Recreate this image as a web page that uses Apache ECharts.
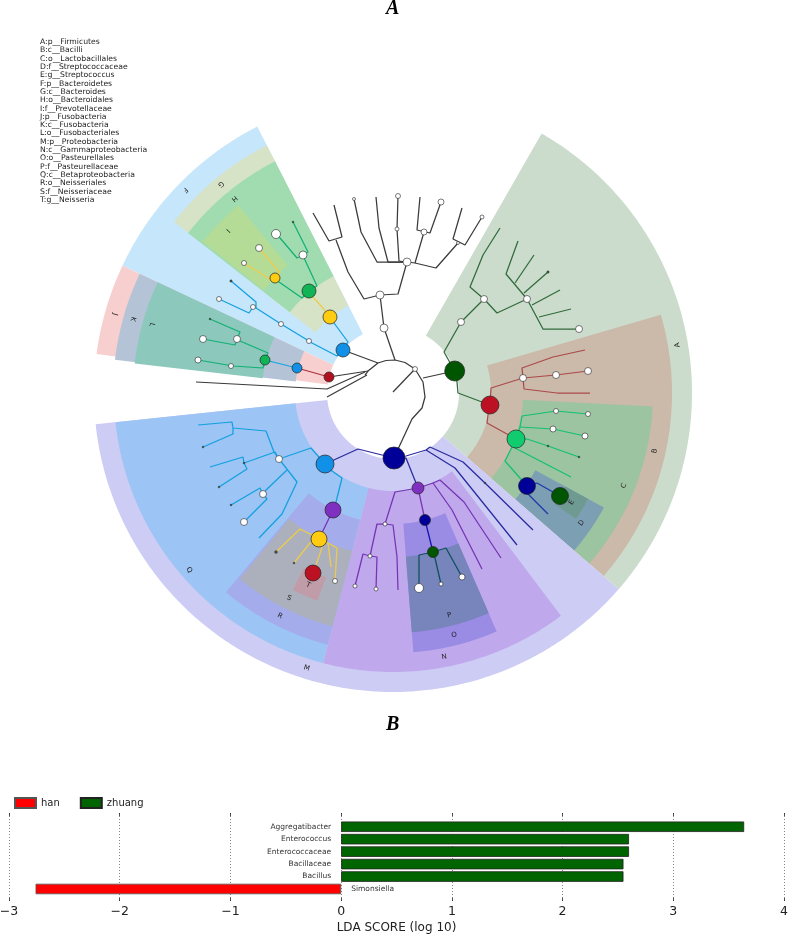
<!DOCTYPE html>
<html><head><meta charset="utf-8">
<style>html,body{margin:0;padding:0;background:#fff}#c{width:789px;height:936px}</style>
<script src="https://cdn.jsdelivr.net/npm/echarts@6/dist/echarts.min.js"></script>
</head><body><div id="c"></div>
<script>
// ---------- cladogram clades ----------
const cladeNames = ['A:p__Firmicutes','B:c__Bacilli','C:o__Lactobacillales','D:f__Streptococcaceae','E:g__Streptococcus','F:p__Bacteroidetes','G:c__Bacteroides','H:o__Bacteroidales','I:f__Prevotellaceae','J:p__Fusobacteria','K:c__Fusobacteria','L:o__Fusobacteriales','M:p__Proteobacteria','N:c__Gammaproteobacteria','O:o__Pasteurellales','P:f__Pasteurellaceae','Q:c__Betaproteobacteria','R:o__Neisseriales','S:f__Neisseriaceae','T:g__Neisseria'];
// [inner radius, outer radius, from angle, to angle, letter radius, letter angle]
const cladeSpans = [
 [66,299,-41,60.2,288.7,9.6],[98,279,-41,16.3,268,-12.5],[130,260,-41,-3,249,-21.9],[162,240,-41,-28.5,229,-34.6],[196,222,-34.5,-28.5,209.5,-31.5],
 [66,299,117,154.8,290.6,135.7],[98,278,117,142,270.7,129.5],[131,260,117,142,251,129.2],[165,243,129.5,141.5,231.7,135.5],
 [66,299,154.8,172.5,289,164.2],[98,280,154.8,173.2,270.6,164.1],[131,260,154.8,173.5,250.8,164.2],
 [66,299,186,319,288.5,252.6],[98,279,255.5,307,269,281],[131,260,274.5,293.5,249.6,284.2],[164,240,274.5,293.5,229.3,284.2],
 [98,279,186,255.5,270,221],[131,260,230,255.5,250,243.1],[163,241,230.5,255.5,230,243.1],[196,221,243,250,210,246.2]
];
const cladeFill = ['#ccdccc','#cbb9aa','#9cc4a0','#7d9fb4','#6e9a92','#c6e6fb','#d6e3c6','#a0dcb0','#b4dc96','#f8cfcf','#b4c4d6','#8cc8bc','#ccccf4','#c0a8ec','#9a8ce4','#7884bc','#9cc4f4','#a4acec','#acb0bc','#c09ca8'];

// ---------- cladogram branches, east / north of the root ----------
const branchesRoot = [
 [[-28,18],[-25,22],[-15,30],[-7,32.5],[2,33],[12,30.5],[22,24],[30,11],[32,-4],[29,-15],[19,-26],[6,-54],[1,-65]],
 [[22,24],[0,1]],[[30,15],[61.7,22]],[[-25,22],[-64,16]],[[-15,30],[-50,43]],
 [[-28,21],[-66,4],[-197,11]],[[-26,18],[-66,-4]],
 [[2,33],[-9,65],[-13,98]],[[-13,98],[-29,94],[-45,121],[-57,153]],[[-80,180],[-64,152],[-51,156],[-59,188]],
 [[-13,98],[5,99],[14,131]],[[14,131],[-16,131],[-32,161],[-39,194]],[[14,131],[-5,131],[-14,165],[-17,196]],
 [[14,131],[6,132],[4,164],[5,197]],[[14,131],[22,130],[31,161]],[[27,196],[24,163],[37,160],[48,191]],
 [[22,130],[43,125],[65,150]],[[69,185],[60,154],[72,148],[89,176]]
];
const branchesA = [
 [[61.7,22],[51,41],[68,71],[91,94]],[[91,94],[77,106],[90,138],[107,165]],[[91,94],[104,80],[134,94]],
 [[134,94],[150,64],[186,64]],[[134,94],[113,119],[125,152]],[[122,110],[141,138]],[[131,100],[155,121]],[[139,88],[167,103]],[[146,76],[178,84]],
 [[61.7,22],[64,11],[65,0],[97,-12]]
];
const branchesB = [
 [[97,-12],[98,5],[130,15]],[[130,15],[129,25],[160,36],[192,43]],[[130,15],[163,18],[195,22]],[[130,15],[131,4],[164,0],[197,0]],
 [[97,-12],[95,-22],[94,-30],[123,-46]]
];
const branchesC = [
 [[123,-46],[127,-34],[129,-23],[163,-18],[195,-21]],[[127,-34],[160,-36],[192,-43]],[[123,-46],[134,-46],[155,-53],[186,-64]],
 [[123,-46],[122,-55],[178,-84]],[[123,-46],[119,-54],[112,-68],[134,-93]]
];
const branchesD = [[[134,-93],[144,-90],[167,-103]],[[134,-93],[134,-100],[155,-121]]];
const branchesM = [
 [[1,-65],[-35,-56],[-68,-71]],[[1,-65],[13,-63],[33,-57],[37,-54]],[[37,-54],[70,-69],[92,-90],[140,-137]],[[33,-57],[62,-75],[124,-152]],
 [[1,-65],[13,-65],[25,-95]]
];
const branchesN = [
 [[25,-95],[2,-99],[-8,-131]],[[-8,-131],[-16,-131],[-23,-163]],[[-23,-163],[-30,-161],[-38,-193]],[[-23,-163],[-16,-164],[-17,-196]],
 [[-8,-131],[0,-132],[4,-164],[5,-197]],[[25,-95],[40,-90],[59,-117],[89,-176]],[[40,-90],[47,-87],[71,-109],[108,-165]],[[25,-95],[32,-127]],[[-60,-117],[-74,-146]]
];
const branchesO = [[[32,-127],[40,-159]]];
const branchesP = [[[40,-159],[26,-162],[26,-195]],[[40,-159],[42,-165],[48,-191]],[[40,-159],[53,-155],[69,-184]]];
const branchesQ = [
 [[-68,-71],[-82,-55],[-114,-66]],[[-114,-66],[-119,-59],[-127,-38],[-160,-35],[-161,-29],[-195,-32]],[[-160,-35],[-160,-41],[-190,-54]],
 [[-114,-66],[-118,-59],[-149,-70],[-150,-64],[-183,-74]],[[-149,-70],[-146,-76],[-174,-94]],
 [[-114,-66],[-96,-89],[-111,-121],[-134,-145]],[[-106,-77],[-127,-97],[-130,-101]],[[-130,-101],[-133,-95],[-162,-112]],[[-130,-101],[-126,-106],[-146,-126],[-149,-129]],
 [[-68,-71],[-61,-78],[-51,-85],[-57,-109],[-60,-117]],
 [[-50,43],[-45,51],[-59,70],[-63,76]],[[-50,43],[-56,37],[-81,50],[-84,52],[-112,69],[-137,85],[-140,86]],[[-140,86],[-144,80],[-174,94]],[[-137,85],[-137,91],[-162,112]],
 [[-96,25],[-128,33]]
];
const branchesS = [
 [[-74,-146],[-83,-141],[-93,-136],[-117,-159]],[[-74,-146],[-83,-150],[-99,-170]],[[-74,-146],[-71,-155],[-80,-180]],
 [[-74,-146],[-65,-150],[-56,-155],[-58,-188]],[[-65,-150],[-62,-174]],
 [[-63,76],[-71,86],[-80,96],[-84,102]],[[-118,115],[-113,120],[-134,145]],[[-118,115],[-123,114],[-146,128],[-149,130]]
];
const branchesH = [
 [[-84,102],[-76,107],[-88,133],[-90,138]],[[-90,138],[-96,135],[-113,155],[-117,159]],[[-90,138],[-85,141],[-100,171]],[[-84,102],[-91,95],[-114,111],[-118,115]],
 [[-128,33],[-125,40],[-153,52],[-156,54]],[[-156,54],[-153,61],[-183,74]],[[-156,54],[-158,48],[-190,54]],[[-128,33],[-130,25],[-160,27],[-162,27],[-195,33]]
];
const branchesJ = [[[-64,16],[-96,25]]];
const branchColours = [
 [branchesRoot,'#3a3a3a'],[branchesA,'#2f6b3a'],[branchesB,'#ab4a4a'],[branchesC,'#12c074'],[branchesD,'#1c3aa8'],
 [branchesM,'#2a2aa0'],[branchesN,'#7434b4'],[branchesO,'#1414b0'],[branchesP,'#0c5058'],[branchesQ,'#12a0e0'],
 [branchesS,'#eecb4c'],[branchesH,'#12b074'],[branchesJ,'#b03040']
];

// ---------- cladogram nodes: east, north, diameter ----------
const whiteNodes = [[-9,65,8],[-13,98,8],[14,131,8],[22,24,5],[4,164,4],[5,197,5],[31,161,6],[48,191,6],[-39,194,3],[65,150,3],[89,176,4],
 [68,71,7],[91,94,7],[134,94,7],[186,64,7],[130,15,7],[163,18,7],[195,22,7],[163,-18,5],[195,-21,5],[160,-36,6],[192,-43,6],
 [-8,-131,4],[-23,-163,4],[-38,-193,4],[-17,-196,4],[26,-195,9],[48,-191,4],[69,-184,6],[-114,-66,7],[-130,-101,7],[-149,-129,7],[-58,-188,5],
 [-84,52,5],[-112,69,5],[-140,86,5],[-174,94,5],[-90,138,8],[-117,159,9],[-134,145,7],[-149,130,5],[-156,54,7],[-190,54,7],[-162,27,5],[-195,33,6]];
const tinyNodes = [[155,121,2.5],[155,-53,2],[186,-64,2],[92,-90,2],[-190,-54,2],[-174,-94,2],[-162,-112,2],[-149,-70,2],[-117,-159,3],[-99,-170,2],[-162,112,2.5],[-100,171,2],[-183,74,2]];
const cladeNodes = [[61.7,22,20],[97,-12,18],[123,-46,18],[134,-93,17],[167,-103,17],[-50,43,14],[-63,76,14],[-84,102,14],[-118,115,10],[-64,16,10],[-96,25,10],[-128,33,10],[1,-65,22],[25,-95,12],[32,-127,11],[40,-159,11],[-68,-71,18],[-60,-117,16],[-74,-146,16],[-80,-180,16]];
const cladeNodeColours = ['#005500','#bb1122','#11cc6e','#000099','#005500','#1190e8','#ffcc11','#11b455','#ffcc11','#b01020','#1190e8','#11b455','#000099','#8030c0','#000099','#005500','#1190e8','#8030c0','#ffcc11','#bb1122'];

// ---------- LDA bars ----------
const taxa = ['Simonsiella','Bacillus','Bacillaceae','Enterococcaceae','Enterococcus','Aggregatibacter'];
const hanScores = [-2.76,null,null,null,null,null];
const zhuangScores = [null,2.55,2.55,2.6,2.6,3.64];

const sansFont = '"DejaVu Sans", sans-serif';
const chart = echarts.init(document.getElementById('c'), null, {renderer:'canvas'});

function renderWedge(params, api){
  const i = params.dataIndex, s = cladeSpans[i], pts = [];
  const step = 0.5;
  for(let a=s[2]; a<s[3]; a+=step){ const p=api.coord([s[1],a]); pts.push([p[0],p[1]]); }
  let p=api.coord([s[1],s[3]]); pts.push([p[0],p[1]]);
  for(let a=s[3]; a>s[2]; a-=step){ const q=api.coord([s[0],a]); pts.push([q[0],q[1]]); }
  p=api.coord([s[0],s[2]]); pts.push([p[0],p[1]]);
  const l = api.coord([s[4],s[5]]);
  return {type:'group',children:[
    {type:'polygon',shape:{points:pts},style:{fill:cladeFill[i]}},
    {type:'text',x:l[0],y:l[1],rotation:(s[5]+90)*Math.PI/180,z2:5,
     style:{text:cladeNames[i][0],fontSize:7,fontFamily:sansFont,fill:'#222',textAlign:'center',textVerticalAlign:'middle'}}
  ]};
}

const branchSeries = [];
branchColours.forEach(([list,colour])=>{
  list.forEach(path=>branchSeries.push({type:'line',xAxisIndex:0,yAxisIndex:0,data:path,symbol:'none',silent:true,z:3,
    lineStyle:{color:colour,width:1.25},animation:false,clip:false}));
});

const nodeSeries = (data,colourFn,bw,z)=>({type:'scatter',xAxisIndex:0,yAxisIndex:0,data,silent:true,z,animation:false,
  symbolSize:v=>v[2],itemStyle:{color:colourFn,borderColor:'#222',borderWidth:bw,opacity:1}});

const letterStyle = {fontFamily:'"Liberation Serif",serif',fontStyle:'italic',fontWeight:'bold',fontSize:20,color:'#000'};

chart.setOption({
  animation:false,
  backgroundColor:'#fff',
  title:[
    {text:'A',left:386,top:-1,padding:0,textStyle:letterStyle},
    {text:'B',left:386,top:715,padding:0,textStyle:letterStyle},
    {text:cladeNames.join('\n'),left:40,top:38,padding:0,textStyle:{fontFamily:sansFont,fontWeight:'normal',fontSize:7.7,lineHeight:8.3,color:'#222'}}
  ],
  legend:{data:['han','zhuang'],left:14,top:797,padding:0,icon:'rect',itemWidth:21,itemHeight:10,itemGap:20,
    textStyle:{fontFamily:sansFont,fontSize:10,color:'#222'}},
  polar:{center:[393,393],radius:[0,300]},
  angleAxis:{type:'value',min:0,max:360,startAngle:0,clockwise:false,show:false},
  radiusAxis:{type:'value',min:0,max:300,show:false},
  grid:[
    {left:0,right:0,top:0,bottom:0,outerBoundsMode:'none'},
    {left:9,right:5,top:820.5,height:74.7,outerBoundsMode:'none'},
    {left:9,right:5,top:813,height:88,outerBoundsMode:'none'}
  ],
  xAxis:[
    {gridIndex:0,type:'value',min:-393,max:396,show:false},
    {gridIndex:1,type:'value',min:-3,max:4,show:false},
    {gridIndex:2,type:'value',min:-3,max:4,interval:1,position:'bottom',
     axisLine:{show:false},axisTick:{show:true,inside:true,length:3,lineStyle:{color:'#222',width:0.8}},
     splitLine:{show:true,lineStyle:{color:'#666',type:[1,2],width:0.8}},
     axisLabel:{fontFamily:sansFont,fontSize:12.5,color:'#222',margin:4,showMinLabel:true,showMaxLabel:true,
       formatter:v=>String(v).replace('-','\u2212')},
     name:'LDA SCORE (log 10)',nameLocation:'middle',nameGap:21,nameTextStyle:{fontFamily:sansFont,fontSize:12,color:'#222'}},
    {gridIndex:2,type:'value',min:-3,max:4,interval:1,position:'top',
     axisLine:{show:false},axisLabel:{show:false},splitLine:{show:false},
     axisTick:{show:true,inside:true,length:3,lineStyle:{color:'#222',width:0.8}}}
  ],
  yAxis:[
    {gridIndex:0,type:'value',min:-543,max:393,show:false},
    {gridIndex:1,type:'category',data:taxa,show:false},
    {gridIndex:2,type:'value',min:0,max:1,show:false}
  ],
  series:[
    {type:'custom',coordinateSystem:'polar',polarIndex:0,renderItem:renderWedge,data:cladeSpans.map((s,i)=>[s[0],s[2],i]),silent:true,z:1,animation:false,clip:false},
    ...branchSeries,
    nodeSeries(whiteNodes,'#fff',0.6,5),
    nodeSeries(tinyNodes,'#3a5a4a',0.3,5),
    nodeSeries(cladeNodes,p=>cladeNodeColours[p.dataIndex],0.7,6),
    {name:'han',type:'bar',stack:'lda',xAxisIndex:1,yAxisIndex:1,data:hanScores,barWidth:10.5,z:4,
     itemStyle:{color:'#ff0000',borderColor:'#555',borderWidth:0.8},
     label:{show:true,position:'right',distance:10,formatter:p=>p.name,fontFamily:sansFont,fontSize:7.5,color:'#333'}},
    {name:'zhuang',type:'bar',stack:'lda',xAxisIndex:1,yAxisIndex:1,data:zhuangScores,barWidth:10.5,z:4,
     itemStyle:{color:'#006400',borderColor:'#222',borderWidth:0.8},
     label:{show:true,position:'left',distance:10,formatter:p=>p.name,fontFamily:sansFont,fontSize:7.5,color:'#333'}}
  ]
});
</script></body></html>
